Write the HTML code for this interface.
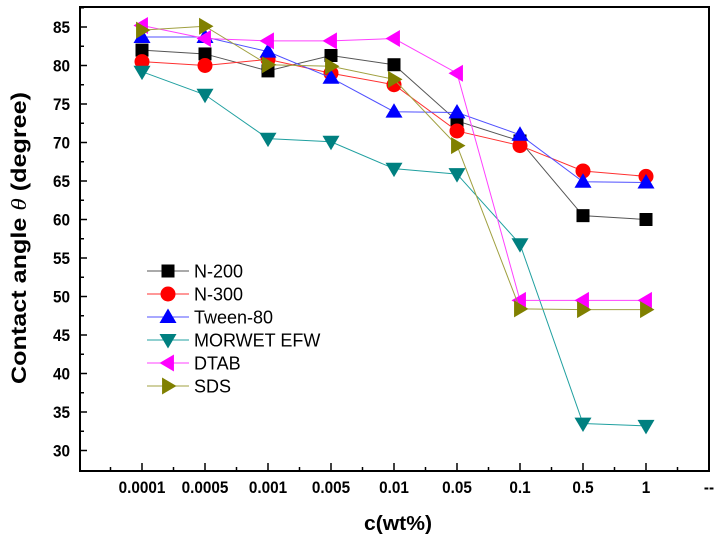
<!DOCTYPE html>
<html><head><meta charset="utf-8"><style>
body{margin:0;background:#fff;width:725px;height:545px;overflow:hidden}
svg{display:block;font-family:"Liberation Sans",Arial,sans-serif}
</style></head><body>
<svg id="chart" width="725" height="545" viewBox="0 0 725 545"></svg>
<script>
const categories = ["0.0001","0.0005","0.001","0.005","0.01","0.05","0.1","0.5","1","--"];
const yTicks = [30,35,40,45,50,55,60,65,70,75,80,85];
const seriesNames = ["N-200","N-300","Tween-80","MORWET EFW","DTAB","SDS"];
const n200 = [82,81.5,79.3,81.3,80.1,72.8,70.2,60.5,60];
const n300 = [80.5,80,80.8,79,77.5,71.5,69.6,66.3,65.6];
const tween80 = [83.7,83.7,81.8,78.4,74,73.9,71,64.9,64.8];
const morwet = [79.2,76.2,70.5,70.1,66.6,65.9,56.8,33.5,33.2];
const dtab = [85.2,83.5,83.2,83.2,83.5,79,49.5,49.5,49.5];
const sds = [84.6,85.1,80.1,79.9,78.2,69.6,48.4,48.3,48.3];

const NS="http://www.w3.org/2000/svg";
const svg=document.getElementById('chart');
const L=80,R=709,T=7,B=471;
const x=i=>142+i*63;
const y=v=>27+(85-v)*7.7;
function mk(t,a,p){const e=document.createElementNS(NS,t);for(const k in a)e.setAttribute(k,a[k]);(p||svg).appendChild(e);return e;}

const frame=mk('rect',{x:L,y:T,width:R-L,height:B-T,fill:'none',stroke:'#000','stroke-width':2});



yTicks.forEach(v=>{
  const t=mk('line',{x1:L,x2:L+7,y1:y(v),y2:y(v),stroke:'#000','stroke-width':1.5});
  
  
  const m=mk('line',{x1:L,x2:L+4,y1:y(v+2.5),y2:y(v+2.5),stroke:'#000','stroke-width':1.5});
  
  
  const l=mk('text',{x:L-10,y:y(v)+6,'text-anchor':'end','font-size':17,'font-weight':'bold',transform:`translate(${(L-10)*0.1},0) scale(0.9,1)`});
  l.textContent=v;
  
  
});
categories.forEach((c,i)=>{
  const t=mk('line',{x1:x(i),x2:x(i),y1:B,y2:B-8,stroke:'#000','stroke-width':1.5});
  
  
  const m=mk('line',{x1:x(i)-31.5,x2:x(i)-31.5,y1:B,y2:B-4,stroke:'#000','stroke-width':1.5});
  
  
  const cx=i<9?x(i):709;
  const l=mk('text',{x:cx,y:B+22,'text-anchor':'middle','font-size':17,'font-weight':'bold',transform:`translate(${cx*0.1},0) scale(0.9,1)`});
  l.textContent=c;
  
  
});

const yt=mk('text',{transform:'translate(26,238) rotate(-90)','text-anchor':'middle','font-size':21,'font-weight':'bold',textLength:292,lengthAdjust:'spacingAndGlyphs'});
yt.innerHTML='Contact angle <tspan font-style="italic" font-weight="normal" font-family="Liberation Serif,serif">θ</tspan> (degree)';


const xt=mk('text',{x:398,y:530,'text-anchor':'middle','font-size':20,'font-weight':'bold',textLength:68,lengthAdjust:'spacingAndGlyphs'});
xt.textContent='c(wt%)';



function marker(type,cx,cy,col,g){
  const s=8.5;
  if(type==='sq') return mk('rect',{x:cx-6.5,y:cy-6.5,width:13,height:13,fill:col},g);
  if(type==='ci') return mk('circle',{cx,cy,r:7.5,fill:col},g);
  let pts;
  if(type==='up') pts=[[cx,cy-s],[cx-s,cy+s*0.7],[cx+s,cy+s*0.7]];
  if(type==='dn') pts=[[cx,cy+s],[cx-s,cy-s*0.7],[cx+s,cy-s*0.7]];
  if(type==='lt') pts=[[cx-s,cy],[cx+s*0.7,cy-s],[cx+s*0.7,cy+s]];
  if(type==='rt') pts=[[cx+s,cy],[cx-s*0.7,cy-s],[cx-s*0.7,cy+s]];
  return mk('polygon',{points:pts.map(p=>p.join(',')).join(' '),fill:col},g);
}
const data=[n200,n300,tween80,morwet,dtab,sds];
const colors=['#000','#ff0000','#0000ff','#008080','#ff00ff','#808000'];
const lineCols=['#555','#ff3030','#5050ff','#20a0a0','#ff40ff','#a0a040'];
const types=['sq','ci','up','dn','lt','rt'];
const keys=['n200','n300','tween80','morwet','dtab','sds'];
data.forEach((d,s)=>{
  const g=mk('g',{});
  
  
  const pl=mk('polyline',{points:d.map((v,i)=>x(i)+','+y(v)).join(' '),fill:'none',stroke:lineCols[s],'stroke-width':1},g);
  
  
  d.forEach((v,i)=>{
    const m=marker(types[s],x(i),y(v),colors[s],g);
    
    
  });
});

const lg=mk('g',{});


seriesNames.forEach((nm,s)=>{
  const ly=271+s*23;
  const e=mk('g',{},lg);
  
  
  mk('line',{x1:147,x2:189,y1:ly,y2:ly,stroke:lineCols[s],'stroke-width':1},e);
  marker(types[s],168,ly,colors[s],e);
  const t=mk('text',{x:194,y:ly+6.5,'font-size':18},e);
  t.textContent=nm;
});
</script>
</body></html>
